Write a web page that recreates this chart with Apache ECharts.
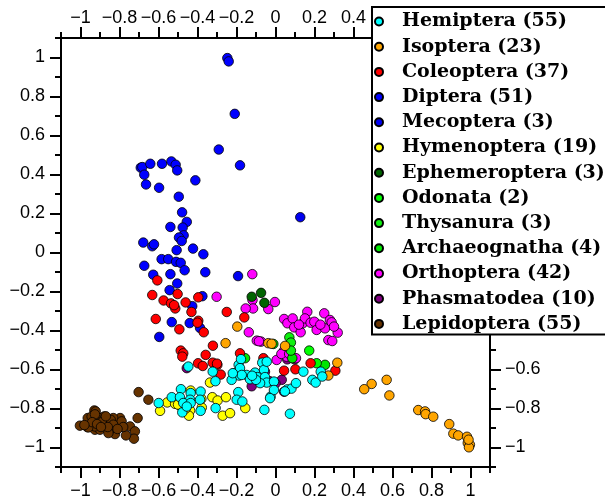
<!DOCTYPE html>
<html>
<head>
<meta charset="utf-8">
<script src="https://cdn.jsdelivr.net/npm/echarts@6/dist/echarts.min.js"></script>
<style>html,body{margin:0;padding:0;background:#fff}#c{width:605px;height:501px}</style>
</head>
<body>
<div id="c"></div>
<script>
const categories = ['Hemiptera (55)','Isoptera (23)','Coleoptera (37)','Diptera (51)','Mecoptera (3)','Hymenoptera (19)','Ephemeroptera (3)','Odonata (2)','Thysanura (3)','Archaeognatha (4)','Orthoptera (42)','Phasmatodea (10)','Lepidoptera (55)'];
const colors = ['#00ffff','#ffa500','#ff0000','#0000ff','#0000f0','#ffff00','#006400','#00ff00','#10f010','#00e600','#ff00ff','#800080','#663300'];
const majorTicks = [-1,-0.8,-0.6,-0.4,-0.2,0,0.2,0.4,0.6,0.8,1];
const minorTicks = [-1.1,-0.9,-0.7,-0.5,-0.3,-0.1,0.1,0.3,0.5,0.7,0.9,1.1];

const hemiptera = [[-0.447,-0.585],[-0.322,-0.611],[-0.308,-0.660],[-0.189,-0.576],[-0.177,-0.547],[-0.213,-0.619],[-0.186,-0.631],[-0.225,-0.653],[-0.148,-0.628],[-0.131,-0.650],[-0.105,-0.616],[-0.093,-0.639],[-0.068,-0.565],[-0.059,-0.602],[-0.054,-0.639],[-0.045,-0.667],[-0.485,-0.701],[-0.435,-0.721],[-0.438,-0.755],[-0.384,-0.713],[-0.532,-0.742],[-0.490,-0.742],[-0.473,-0.772],[-0.435,-0.772],[-0.387,-0.755],[-0.384,-0.812],[-0.478,-0.820],[-0.307,-0.798],[-0.191,-0.716],[-0.199,-0.755],[-0.170,-0.764],[-0.057,-0.807],[-0.599,-0.772],[-0.182,-0.593],[-0.045,-0.560],[-0.025,-0.739],[-0.008,-0.662],[-0.008,-0.705],[0.060,-0.702],[0.082,-0.698],[0.105,-0.670],[0.074,-0.827],[0.143,-0.611],[0.189,-0.653],[0.206,-0.667],[0.232,-0.611],[0.240,-0.636],[-0.173,-0.628],[-0.079,-0.670],[-0.100,-0.653],[-0.028,-0.747],[0.048,-0.712],[-0.120,-0.632],[-0.219,-0.619],[-0.455,-0.790]];
const isoptera = [[0.493,-0.674],[0.570,-0.653],[0.584,-0.733],[0.732,-0.808],[0.767,-0.815],[0.770,-0.829],[0.809,-0.842],[0.891,-0.880],[0.912,-0.929],[0.937,-0.938],[0.982,-0.945],[0.986,-0.977],[0.997,-0.986],[0.992,-0.999],[0.455,-0.701],[-0.196,-0.380],[-0.256,-0.465],[-0.037,-0.465],[0.049,-0.479],[0.317,-0.565],[0.271,-0.631],[-0.020,-0.468],[0.990,-0.960]];
const coleoptera = [[-0.606,-0.143],[-0.632,-0.218],[-0.574,-0.246],[-0.536,-0.261],[-0.514,-0.287],[-0.502,-0.213],[-0.461,-0.256],[-0.396,-0.230],[-0.431,-0.305],[-0.614,-0.341],[-0.493,-0.394],[-0.396,-0.350],[-0.368,-0.409],[-0.250,-0.305],[-0.160,-0.333],[-0.321,-0.478],[-0.486,-0.503],[-0.473,-0.517],[-0.358,-0.525],[-0.397,-0.568],[-0.373,-0.582],[-0.322,-0.565],[-0.298,-0.576],[-0.281,-0.626],[-0.182,-0.517],[-0.062,-0.542],[0.044,-0.606],[0.102,-0.599],[0.180,-0.568],[0.307,-0.606],[-0.478,-0.534],[-0.520,-0.270],[-0.400,-0.360],[-0.300,-0.570]];
const diptera = [[-0.247,0.997],[-0.240,0.980],[-0.209,0.711],[-0.291,0.528],[-0.182,0.447],[-0.691,0.435],[-0.683,0.438],[-0.642,0.455],[-0.582,0.455],[-0.534,0.467],[-0.512,0.450],[-0.504,0.421],[-0.673,0.399],[-0.664,0.349],[-0.597,0.332],[-0.411,0.370],[-0.496,0.286],[-0.479,0.206],[-0.455,0.157],[-0.539,0.131],[-0.476,0.128],[-0.471,0.088],[-0.495,0.077],[-0.481,0.059],[-0.678,0.051],[-0.632,0.032],[-0.623,0.042],[-0.507,0.012],[-0.423,0.020],[-0.370,-0.009],[-0.584,-0.034],[-0.550,-0.034],[-0.510,-0.048],[-0.486,-0.053],[-0.673,-0.068],[-0.466,-0.091],[-0.360,-0.101],[-0.627,-0.114],[-0.539,-0.111],[-0.504,-0.159],[-0.543,-0.193],[-0.375,-0.224],[-0.427,-0.275],[-0.532,-0.357],[-0.440,-0.362],[-0.387,-0.387]];
const mecoptera = [[0.127,0.181],[-0.192,-0.121],[-0.596,-0.433]];
const hymenoptera = [[-0.592,-0.812],[-0.555,-0.769],[-0.515,-0.776],[-0.485,-0.790],[-0.473,-0.810],[-0.438,-0.810],[-0.444,-0.837],[-0.378,-0.795],[-0.336,-0.667],[-0.324,-0.742],[-0.297,-0.759],[-0.254,-0.742],[-0.271,-0.837],[-0.233,-0.824],[-0.155,-0.798],[-0.435,-0.708],[-0.380,-0.750],[-0.460,-0.800],[-0.500,-0.780]];
const ephemeroptera = [[-0.122,-0.227],[-0.074,-0.207],[-0.057,-0.258]];
const odonata = [[0.173,-0.503],[0.211,-0.568]];
const thysanura = [[0.071,-0.435],[0.079,-0.462],[0.079,-0.503]];
const archaeognatha = [[-0.156,-0.542],[-0.011,-0.469],[0.086,-0.542],[0.254,-0.576]];
const orthoptera = [[-0.119,-0.111],[-0.302,-0.227],[-0.118,-0.244],[-0.115,-0.287],[-0.153,-0.287],[-0.003,-0.254],[-0.037,-0.290],[-0.137,-0.409],[-0.096,-0.452],[-0.074,-0.457],[0.044,-0.341],[0.061,-0.363],[0.088,-0.338],[0.096,-0.384],[0.129,-0.409],[0.140,-0.363],[0.163,-0.304],[0.151,-0.338],[0.180,-0.360],[0.199,-0.355],[0.211,-0.397],[0.250,-0.312],[0.254,-0.389],[0.279,-0.346],[0.288,-0.358],[0.271,-0.449],[0.291,-0.454],[0.319,-0.411],[0.044,-0.503],[0.006,-0.551],[0.057,-0.534],[0.105,-0.542],[0.120,-0.370],[0.230,-0.370],[0.300,-0.380],[-0.085,-0.455],[0.030,-0.520],[0.070,-0.520]];
const phasmatodea = [[-0.122,-0.686],[-0.054,-0.612],[-0.070,-0.662],[0.032,-0.653],[0.044,-0.714],[0.060,-0.548],[0.098,-0.548],[-0.455,-0.593],[0.000,-0.672],[-0.030,-0.660]];
const lepidoptera = [[-0.702,-0.716],[-0.652,-0.755],[-0.929,-0.810],[-1.003,-0.888],[-0.707,-0.849],[-0.746,-0.892],[-0.721,-0.917],[-0.726,-0.955],[-0.767,-0.938],[-0.789,-0.892],[-0.823,-0.931],[-0.797,-0.849],[-0.965,-0.895],[-0.951,-0.861],[-0.922,-0.815],[-0.905,-0.849],[-0.926,-0.909],[-0.879,-0.841],[-0.866,-0.875],[-0.874,-0.892],[-0.900,-0.909],[-0.840,-0.861],[-0.849,-0.909],[-0.814,-0.883],[-0.832,-0.849],[-0.789,-0.866],[-0.781,-0.895],[-0.963,-0.849],[-0.943,-0.841],[-0.908,-0.849],[-0.883,-0.858],[-0.845,-0.858],[-0.926,-0.892],[-0.960,-0.897],[-0.857,-0.926],[-0.832,-0.883],[-0.926,-0.830],[-0.890,-0.870],[-0.860,-0.895],[-0.940,-0.870],[-0.810,-0.905],[-0.915,-0.880],[-0.870,-0.840],[-0.980,-0.885],[-0.895,-0.895]];

const seriesData = [hemiptera, isoptera, coleoptera, diptera, mecoptera, hymenoptera, ephemeroptera, odonata, thysanura, archaeognatha, orthoptera, phasmatodea, lepidoptera];

function fmt(v) {
  if (Math.abs(v) < 1e-9) return '0';
  const s = String(Math.round(Math.abs(v) * 10) / 10);
  return (v < 0 ? '\u2212' : '') + s;
}
const labelFont = { fontFamily: 'Liberation Sans', fontSize: 18, color: '#000' };
function axis(position, minor, margin) {
  return {
    type: 'value', position: position, min: -1.1, max: 1.1,
    splitLine: { show: false },
    axisLine: { show: !minor, onZero: false, lineStyle: { color: '#000', width: 2 } },
    axisTick: { show: true, inside: false, length: minor ? 6 : 11, customValues: minor ? minorTicks : majorTicks, lineStyle: { color: '#000', width: 2 } },
    axisLabel: minor ? { show: false } : Object.assign({ show: true, margin: margin, customValues: majorTicks, formatter: fmt }, labelFont)
  };
}

const chart = echarts.init(document.getElementById('c'), null, { renderer: 'canvas' });
const series = [];
for (let i = seriesData.length - 1; i >= 0; i--) {
  series.push({
    name: categories[i], type: 'scatter', data: seriesData[i], symbolSize: 9.5,
    xAxisIndex: 0, yAxisIndex: 0,
    itemStyle: { color: colors[i], borderColor: '#000', borderWidth: 0.8, opacity: 1 },
    emphasis: { disabled: true }
  });
}
chart.setOption({
  animation: false,
  grid: { left: 61, top: 38, right: 115, bottom: 34, containLabel: false },
  xAxis: [axis('bottom', false, 15), axis('bottom', true), axis('top', false, 11), axis('top', true)],
  yAxis: [axis('left', false, 16), axis('left', true), axis('right', false, 15), axis('right', true)],
  legend: {
    data: categories, orient: 'vertical', left: 372, top: 7,
    padding: [5, 30, 1, 2], backgroundColor: '#fff', borderColor: '#000', borderWidth: 2,
    itemWidth: 8, itemHeight: 8, itemGap: 6.2, icon: 'circle', selectedMode: false,
    textStyle: { fontFamily: 'DejaVu Serif', fontWeight: 'bold', fontSize: 19, lineHeight: 18, color: '#000', padding: [0, 0, 0, 14] },
    z: 10
  },
  series: series
});
</script>
</body>
</html>
